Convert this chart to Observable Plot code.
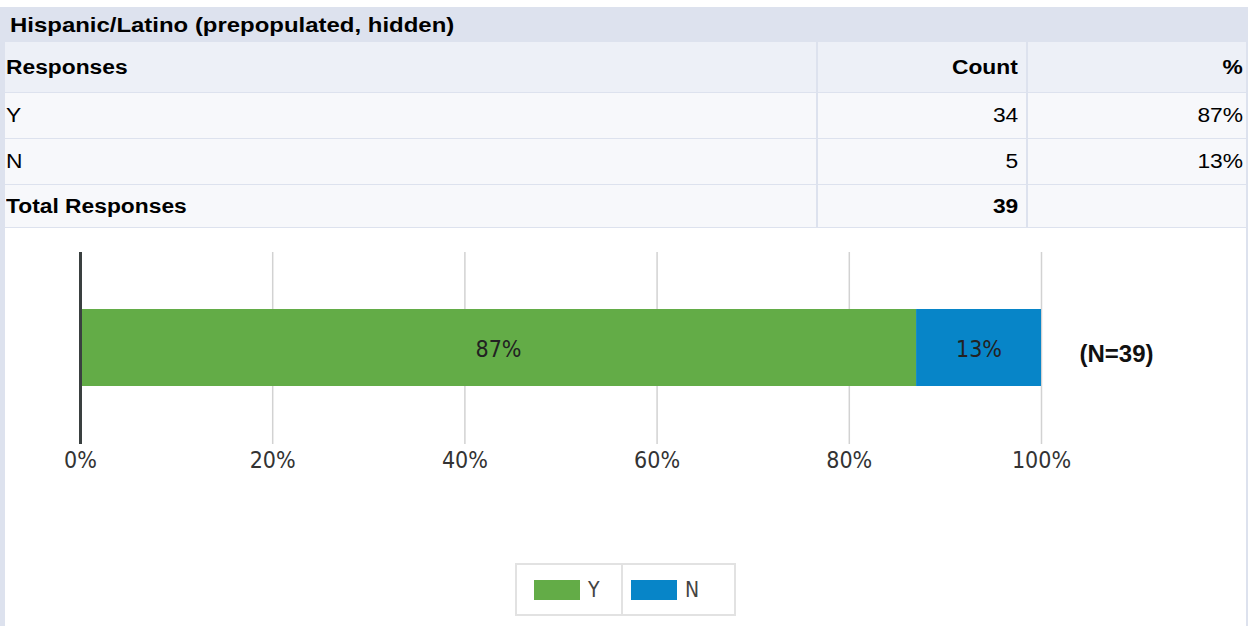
<!DOCTYPE html>
<html><head><meta charset="utf-8">
<script src="https://cdn.jsdelivr.net/npm/d3@7"></script>
<script src="https://cdn.jsdelivr.net/npm/@observablehq/plot@0.6"></script>
<style>
html,body{margin:0;padding:0;background:#fff;}
body{width:1258px;height:626px;overflow:hidden;position:relative;font-family:"Liberation Sans",Arial,sans-serif;color:#000;}
#panel{position:absolute;left:0;top:7px;width:1248px;height:640px;background:#dde2ee;}
.cell{position:absolute;box-sizing:border-box;white-space:nowrap;font-size:20px;display:flex;align-items:center;}
.t{display:inline-block;transform:scaleX(1.14);}
.l .t{transform-origin:left center;}
.r{justify-content:flex-end;}
.r .t{transform-origin:right center;}
.b{font-weight:bold;}
#chartArea{position:absolute;left:5px;top:228px;width:1241px;height:420px;background:#fff;}
#chart{position:absolute;left:0;top:228px;}
#legend{position:absolute;left:515px;top:563px;width:221px;height:53px;box-sizing:border-box;border:2px solid #e2e2e2;display:flex;background:#fff;}
.li{display:flex;align-items:center;box-sizing:border-box;height:100%;font-family:"DejaVu Sans Condensed","DejaVu Sans",sans-serif;font-stretch:condensed;font-size:21px;color:#444;}
.sw{width:46px;height:20px;margin-right:8px;}
</style>
</head><body>
<div id="panel"></div>
<div id="chartArea"></div>
<div id="chart"></div>
<div id="legend"></div>
<script>
// ---- data ----
const title = "Hispanic/Latino (prepopulated, hidden)";
const headers = ["Responses", "Count", "%"];
const responses = ["Y", "N"];
const counts = [34, 5];
const percents = [87, 13];
const totalLabel = "Total Responses";
const total = 39;
const colors = ["#63ac47", "#0785c8"];
const ticks = [0, 20, 40, 60, 80, 100];
const question = "Hispanic/Latino";

// ---- table ----
const body = document.body;
function cell(txt, x, y, w, h, cls, bg) {
  const d = document.createElement("div");
  d.className = "cell " + cls;
  d.style.left = x + "px"; d.style.top = y + "px";
  d.style.width = w + "px"; d.style.height = h + "px";
  if (bg) d.style.background = bg;
  const s = document.createElement("span");
  s.className = "t"; s.textContent = txt;
  d.appendChild(s);
  body.appendChild(d);
  return d;
}
const cols = [[5, 811, "l"], [818, 208, "r"], [1028, 218, "r"]];
const pads = [["paddingLeft", 1], ["paddingRight", 8], ["paddingRight", 3]];
const tcell = cell(title, 5, 7, 1243, 35, "l b", null);
tcell.style.paddingLeft = "5px"; tcell.style.fontSize = "21px";
const rows = [
  {top: 42, h: 50, bg: "#edf0f7", vals: headers, bold: true},
  {top: 93, h: 45, bg: "#f7f8fb", vals: [responses[0], counts[0], percents[0] + "%"]},
  {top: 139, h: 45, bg: "#f7f8fb", vals: [responses[1], counts[1], percents[1] + "%"]},
  {top: 185, h: 42, bg: "#f7f8fb", vals: [totalLabel, total, ""], bold: true}
];
rows.forEach(r => {
  r.vals.forEach((v, i) => {
    const c = cell(String(v), cols[i][0], r.top, cols[i][1], r.h, cols[i][2] + (r.bold ? " b" : ""), r.bg);
    c.style[pads[i][0]] = pads[i][1] + "px";
  });
});

// ---- chart ----
const data = responses.map((r, i) => ({q: question, resp: r, pct: percents[i]}));
const chart = Plot.plot({
  width: 1246, height: 260,
  marginLeft: 80, marginRight: 205, marginTop: 24, marginBottom: 44,
  style: {background: "transparent", fontFamily: '"DejaVu Sans Condensed","DejaVu Sans",sans-serif', fontStretch: "condensed", fontSize: "23px", color: "#333", overflow: "visible"},
  x: {domain: [0, 100], ticks: ticks, tickFormat: d => d + "%", tickSize: 0, tickPadding: 7, label: null},
  y: {axis: null, domain: [question], padding: 0.4225},
  color: {domain: responses, range: colors},
  marks: [
    Plot.gridX(ticks, {stroke: "#d2d2d2", strokeOpacity: 1, strokeWidth: 1.5}),
    Plot.barX(data, Plot.stackX({x: "pct", y: "q", fill: "resp"})),
    Plot.text(data, Plot.stackX({x: "pct", y: "q", text: d => d.pct + "%", fill: "#222", dy: 2})),
    Plot.ruleX([0], {stroke: "#3a4040", strokeWidth: 3}),
    Plot.text([question], {x: () => 100, y: d => d, text: () => `(N=${total})`, dx: 38, dy: 6, textAnchor: "start", fontWeight: "bold", fontSize: 24, fill: "#111", fontFamily: '"Liberation Sans",Arial,sans-serif'})
  ]
});
document.getElementById("chart").appendChild(chart);

// ---- legend ----
const lg = document.getElementById("legend");
responses.forEach((r, i) => {
  const it = document.createElement("div");
  it.className = "li";
  it.style.width = i === 0 ? "106px" : "111px";
  it.style.paddingLeft = i === 0 ? "17px" : "8px";
  if (i === 0) it.style.borderRight = "2px solid #e2e2e2";
  const sw = document.createElement("div");
  sw.className = "sw"; sw.style.background = colors[i];
  const tx = document.createElement("span");
  tx.textContent = r;
  it.appendChild(sw); it.appendChild(tx);
  lg.appendChild(it);
});
</script>
</body></html>
